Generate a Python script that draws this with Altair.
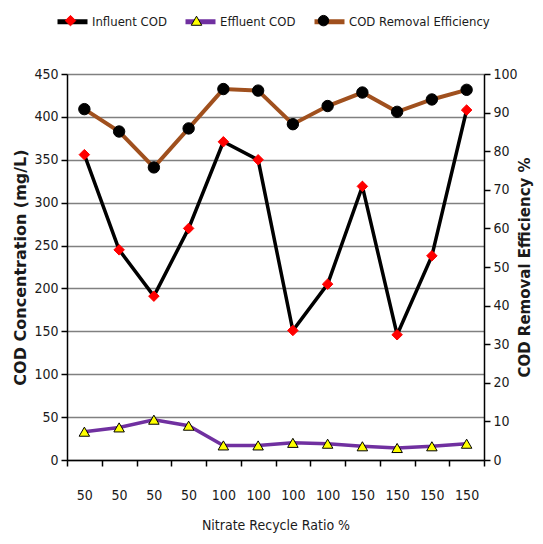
import json
import altair as alt
import pandas as pd

idx = list(range(12))
ratio_labels = ["50", "50", "50", "50", "100", "100", "100", "100", "150", "150", "150", "150"]
influent = [356, 245, 191, 270, 371, 350, 151, 205, 319, 146, 238, 408]
effluent = [33, 38, 47, 40, 17, 17, 20, 19, 16, 14, 16, 19]
removal = [90.9, 85.1, 75.8, 85.9, 96.1, 95.7, 87.0, 91.7, 95.2, 90.2, 93.4, 95.9]

series_names = ["Influent COD", "Effluent COD", "COD Removal Efficiency"]
marker_keys = ["m0", "m1", "m2"]
line_colors = ["#000000", "#7030A0", "#A0501E"]
marker_shapes = ["diamond", "triangle-up", "circle"]
marker_fills = ["#FF0000", "#FFFF00", "#000000"]
marker_strokes = ["#FF0000", "#000000", "#000000"]

conc_rows = []
for i in idx:
    conc_rows.append(dict(i=i, series=series_names[0], series_m=marker_keys[0], value=influent[i]))
for i in idx:
    conc_rows.append(dict(i=i, series=series_names[1], series_m=marker_keys[1], value=effluent[i]))
conc = pd.DataFrame(conc_rows)
rem = pd.DataFrame(dict(i=idx, series=[series_names[2]] * 12,
                        series_m=[marker_keys[2]] * 12, value=removal))

FONT = "DejaVu Sans Condensed"
label_expr = json.dumps(ratio_labels) + "[datum.value]"
mk_label_expr = json.dumps(dict(zip(marker_keys, series_names))) + "[datum.value]"

x_enc = alt.X(
    "i:O",
    scale=alt.Scale(type="band", domain=idx, paddingInner=0, paddingOuter=0),
    bandPosition=0.5,
    axis=alt.Axis(labelExpr=label_expr, tickBand="extent", title="Nitrate Recycle Ratio %",
                  labelAngle=0, labelFont=FONT, labelFontSize=14, labelColor="#1a1a1a",
                  labelPadding=22, tickSize=6, tickColor="#000", domainColor="#000",
                  tickWidth=1.5, domainWidth=1.5,
                  titleFont=FONT, titleFontSize=14, titleFontWeight="normal", titleColor="#1a1a1a",
                  titlePadding=16, grid=False),
)

legend_common = dict(orient="none", legendX=-12, direction="horizontal",
                     title=None, labelFont=FONT, labelFontSize=13, columnPadding=8,
                     labelLimit=300)

color_enc = alt.Color("series:N", scale=alt.Scale(domain=series_names, range=line_colors),
                      legend=alt.Legend(symbolType="stroke", symbolSize=900, symbolStrokeWidth=5,
                                        labelOffset=2, labelColor="#1a1a1a", legendY=-70,
                                        **legend_common))

mk_legend = alt.Legend(symbolSize=110, labelOffset=21, symbolOffset=9, labelColor="transparent",
                       symbolStrokeWidth=1, labelExpr=mk_label_expr, legendY=-60, **legend_common)
shape_enc = alt.Shape("series_m:N", scale=alt.Scale(domain=marker_keys, range=marker_shapes), legend=mk_legend)
fill_enc = alt.Fill("series_m:N", scale=alt.Scale(domain=marker_keys, range=marker_fills), legend=mk_legend)
stroke_enc = alt.Stroke("series_m:N", scale=alt.Scale(domain=marker_keys, range=marker_strokes), legend=mk_legend)

y_left = alt.Y("value:Q", scale=alt.Scale(domain=[0, 450]),
               axis=alt.Axis(values=list(range(0, 451, 50)), title="COD  Concentration   (mg/L)",
                             grid=True, gridColor="#808080", gridWidth=1.5,
                             labelFont=FONT, labelFontSize=14, labelColor="#1a1a1a", labelPadding=3,
                             tickSize=6, tickColor="#000", domainColor="#000", tickWidth=1.5, domainWidth=1.5,
                             titleFont="DejaVu Sans", titleFontSize=16, titleFontWeight="bold",
                             titleColor="#1a1a1a", titlePadding=5))
y_right = alt.Y("value:Q", scale=alt.Scale(domain=[0, 100]),
                axis=alt.Axis(orient="right", values=list(range(0, 101, 10)), title="COD  Removal   Efficiency   %",
                              grid=False, labelFont=FONT, labelFontSize=14, labelColor="#1a1a1a", labelPadding=3,
                              tickSize=6, tickColor="#000", domainColor="#000", tickWidth=1.5, domainWidth=1.5,
                              titleFont="DejaVu Sans", titleFontSize=15, titleFontWeight="bold",
                              titleColor="#1a1a1a", titleAngle=270, titlePadding=15))

left_line = alt.Chart(conc).mark_line(strokeWidth=3.5).encode(x=x_enc, y=y_left, color=color_enc,
                                                                 detail="series:N")
left_pts = alt.Chart(conc).mark_point(filled=True, size=110, strokeWidth=1, opacity=1).encode(
    x=x_enc, y=y_left, shape=shape_enc, fill=fill_enc, stroke=stroke_enc)
right_line = alt.Chart(rem).mark_line(strokeWidth=4).encode(x=x_enc, y=y_right, color=color_enc)
right_pts = alt.Chart(rem).mark_point(filled=True, size=130, strokeWidth=1, opacity=1).encode(
    x=x_enc, y=y_right, shape=shape_enc, fill=fill_enc, stroke=stroke_enc)

left = alt.layer(left_line, left_pts)
right = alt.layer(right_line, right_pts)

chart = alt.layer(left, right).resolve_scale(y="independent").properties(
    width=417, height=386,
    autosize=alt.AutoSizeParams(type="none"),
    padding={"left": 59, "top": 66, "right": 51, "bottom": 76},
).configure_view(stroke=None).configure(background="white")

chart.save("out.html", embed_options={"renderer": "svg", "actions": False})
